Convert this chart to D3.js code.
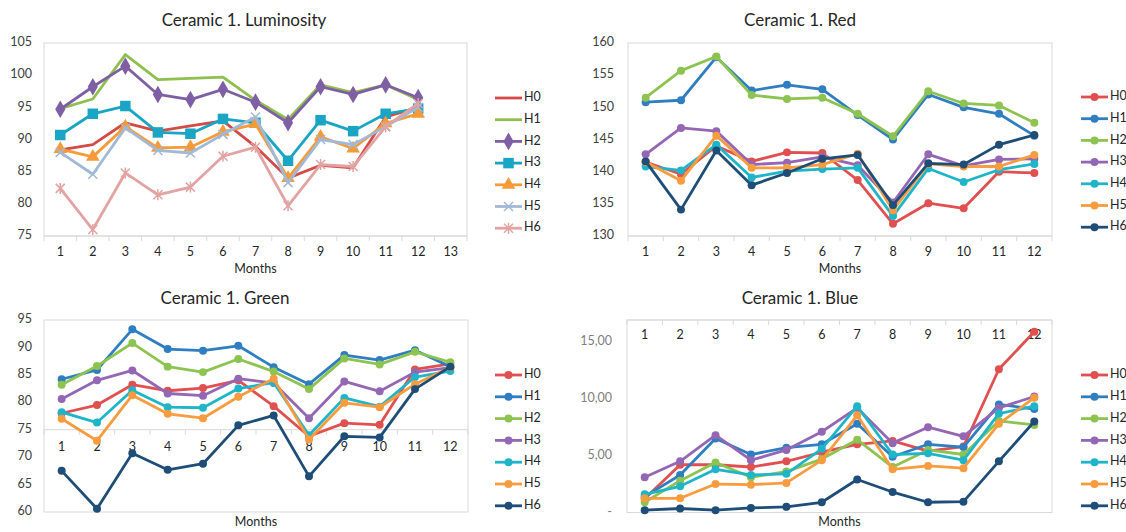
<!DOCTYPE html>
<html>
<head>
<meta charset="utf-8">
<script src="https://cdn.jsdelivr.net/npm/d3@7"></script>
<style>
	body { margin: 0; background: #fff; }
	svg text { font-family: Lato, "Open Sans", sans-serif; }
</style>
</head>
<body>
<svg id="chart" width="1126" height="532"></svg>
<script>
// ---------- data ----------
const months = [1, 2, 3, 4, 5, 6, 7, 8, 9, 10, 11, 12];
const lumCategories = [1, 2, 3, 4, 5, 6, 7, 8, 9, 10, 11, 12, 13];
const seriesNames = ["H0", "H1", "H2", "H3", "H4", "H5", "H6"];

const lumTicks = [75, 80, 85, 90, 95, 100, 105];
const redTicks = [130, 135, 140, 145, 150, 155, 160];
const greenTicks = [60, 65, 70, 75, 80, 85, 90, 95];
const blueTicks = [0, 5, 10, 15];

// Luminosity
const lumH0 = [88.4, 89.2, 92.6, 91.3, 92.1, 92.9, 88.9, 84.0, 86.0, 85.6, 93.5, 95.0];
const lumH1 = [94.8, 96.3, 103.2, 99.3, 99.5, 99.7, 96.1, 93.1, 98.5, 97.3, 98.5, 96.2];
const lumH2 = [94.7, 98.2, 101.4, 97.0, 96.2, 97.8, 95.8, 92.6, 98.2, 97.0, 98.5, 96.5];
const lumH3 = [90.7, 94.0, 95.2, 91.1, 90.9, 93.2, 92.6, 86.7, 93.0, 91.3, 94.0, 94.8];
const lumH4 = [88.5, 87.3, 92.0, 88.7, 88.8, 91.2, 92.4, 84.0, 90.4, 88.6, 92.5, 94.0];
const lumH5 = [88.0, 84.6, 91.8, 88.3, 87.9, 90.8, 93.5, 83.3, 90.0, 89.2, 92.0, 95.0];
const lumH6 = [82.4, 76.0, 84.8, 81.4, 82.6, 87.4, 88.8, 79.7, 86.1, 85.8, 92.0, 95.6];

// Red
const redH0 = [141.5, 139.6, 144.0, 141.6, 143.0, 142.9, 138.7, 131.9, 135.1, 134.3, 140.0, 139.8];
const redH1 = [150.8, 151.1, 157.8, 152.6, 153.5, 152.8, 148.8, 145.0, 152.0, 150.0, 149.0, 145.6];
const redH2 = [151.5, 155.7, 157.9, 151.9, 151.3, 151.5, 149.0, 145.5, 152.5, 150.6, 150.3, 147.6];
const redH3 = [142.7, 146.8, 146.3, 141.1, 141.4, 142.3, 141.0, 135.2, 142.7, 140.9, 141.9, 142.0];
const redH4 = [140.8, 140.2, 144.2, 139.1, 140.1, 140.4, 140.6, 133.1, 140.5, 138.4, 140.3, 141.2];
const redH5 = [141.5, 138.6, 145.6, 140.6, 140.6, 141.1, 142.8, 134.0, 141.2, 140.8, 140.8, 142.6];
const redH6 = [141.6, 134.1, 143.3, 137.9, 139.8, 142.0, 142.6, 134.8, 141.3, 141.1, 144.2, 145.7];

// Green
const greenH0 = [78.0, 79.5, 83.2, 82.1, 82.6, 84.0, 79.3, 73.8, 76.2, 75.9, 86.0, 87.0];
const greenH1 = [84.2, 85.9, 93.3, 89.7, 89.4, 90.3, 86.4, 83.3, 88.6, 87.7, 89.5, 86.5];
const greenH2 = [83.2, 86.6, 90.8, 86.5, 85.5, 87.9, 85.6, 82.4, 88.0, 86.9, 89.2, 87.3];
const greenH3 = [80.6, 84.0, 85.8, 81.6, 81.2, 84.3, 83.5, 77.1, 83.8, 82.0, 85.5, 86.3];
const greenH4 = [78.2, 76.3, 82.2, 79.1, 79.0, 82.5, 83.6, 74.0, 80.8, 79.2, 84.6, 85.7];
const greenH5 = [77.0, 73.0, 81.3, 77.9, 77.1, 81.0, 84.3, 73.2, 79.9, 79.1, 83.3, 86.4];
const greenH6 = [67.5, 60.6, 70.7, 67.7, 68.8, 75.8, 77.6, 66.5, 73.8, 73.6, 82.4, 86.5];

// Blue
const blueH0 = [1.2, 4.2, 4.2, 4.0, 4.5, 5.3, 6.0, 6.3, 5.4, 5.8, 12.6, 15.9];
const blueH1 = [1.4, 3.3, 6.5, 5.1, 5.7, 6.0, 7.8, 4.9, 6.0, 5.75, 9.5, 9.1];
const blueH2 = [0.9, 2.8, 4.4, 3.1, 3.6, 4.7, 6.4, 4.0, 5.5, 5.1, 8.05, 7.7];
const blueH3 = [3.1, 4.5, 6.8, 4.6, 5.5, 7.1, 9.2, 6.1, 7.5, 6.7, 9.2, 10.2];
const blueH4 = [1.6, 2.3, 3.8, 3.3, 3.4, 5.6, 9.35, 5.1, 5.2, 4.6, 8.7, 9.35];
const blueH5 = [1.25, 1.25, 2.5, 2.45, 2.6, 4.6, 8.55, 3.8, 4.1, 3.9, 7.8, 10.1];
const blueH6 = [0.2, 0.35, 0.2, 0.4, 0.5, 0.9, 2.9, 1.8, 0.9, 0.95, 4.5, 8.0];

// ---------- styles ----------
const lumColors = ["#d24b46", "#8fbf4f", "#7f5fa3", "#19a5c3", "#f79a38", "#a1b9d6", "#e2a3a3"];
const lumMarkers = ["none", "none", "diamond", "square", "triangle", "x", "star"];
const rgbColors = ["#e05050", "#2f7ec1", "#8dc350", "#9467b5", "#1fb5c9", "#f89c3f", "#1e4e78"];

const svg = d3.select("#chart");

function markerPath(type) {
	if (type == "diamond") return d3.symbol(d3.symbolDiamond, 90)();
	if (type == "square") return d3.symbol(d3.symbolSquare, 110)();
	if (type == "triangle") return d3.symbol(d3.symbolTriangle, 80)();
	if (type == "x") return "M-4.5,-4.5L4.5,4.5M-4.5,4.5L4.5,-4.5";
	if (type == "star") return "M-4.5,-4.5L4.5,4.5M-4.5,4.5L4.5,-4.5M0,-5.5L0,5.5";
	if (type == "circle") return d3.symbol(d3.symbolCircle, 50)();
	return null;
}

function drawMarker(g, type, color) {
	const p = markerPath(type);
	if (!p) return;
	const stroked = (type == "x" || type == "star");
	g.append("path")
		.attr("d", p)
		.attr("fill", stroked ? "none" : color)
		.attr("stroke", stroked ? color : "none")
		.attr("stroke-width", 1.5);
}

function drawPanel(cfg) {
	const g = svg.append("g");

	const x = d3.scaleBand()
		.domain(cfg.categories)
		.range([cfg.left, cfg.right])
		.paddingInner(0).paddingOuter(0);
	const bw = x.bandwidth();

	const y = d3.scaleLinear()
		.domain(cfg.yDomain)
		.range([cfg.bottom, cfg.top]);

	// plot area border
	g.append("rect")
		.attr("x", cfg.left).attr("y", cfg.top)
		.attr("width", cfg.right - cfg.left).attr("height", cfg.bottom - cfg.top)
		.attr("fill", "none").attr("stroke", "#d9d9d9").attr("stroke-width", 1);

	// category axis line + ticks between categories
	const axisY = cfg.axisAt == "top" ? cfg.top : y(cfg.axisAt);
	g.append("line")
		.attr("x1", cfg.left).attr("x2", cfg.right)
		.attr("y1", axisY).attr("y2", axisY)
		.attr("stroke", "#d9d9d9");
	const bounds = cfg.categories.map(c => x(c)).concat([cfg.right]);
	g.selectAll(".tk").data(bounds).enter().append("line")
		.attr("x1", d => d).attr("x2", d => d)
		.attr("y1", axisY).attr("y2", axisY + 5)
		.attr("stroke", "#d9d9d9");

	// category labels
	g.selectAll(".cat").data(cfg.categories).enter().append("text")
		.text(d => d)
		.attr("x", d => x(d) + bw / 2)
		.attr("y", cfg.catLabelY)
		.attr("text-anchor", "middle")
		.attr("dominant-baseline", "middle")
		.attr("font-size", 12.5)
		.attr("fill", "#262626");

	// value labels
	g.selectAll(".val").data(cfg.yTicks).enter().append("text")
		.text(cfg.yFormat)
		.attr("x", cfg.left - cfg.labelGap)
		.attr("y", d => y(d))
		.attr("text-anchor", "end")
		.attr("dominant-baseline", "middle")
		.attr("font-size", 12.5)
		.attr("fill", cfg.yColor);

	// title and axis title
	g.append("text").text(cfg.title)
		.attr("x", cfg.titleX).attr("y", cfg.titleY)
		.attr("text-anchor", "middle").attr("dominant-baseline", "middle")
		.attr("font-size", 17).attr("fill", "#262626");
	g.append("text").text("Months")
		.attr("x", (cfg.left + cfg.right) / 2).attr("y", cfg.monthsY)
		.attr("text-anchor", "middle").attr("dominant-baseline", "middle")
		.attr("font-size", 12.5).attr("fill", "#262626");

	// series
	const line = d3.line()
		.x((d, i) => x(months[i]) + bw / 2)
		.y(d => y(d));

	cfg.series.forEach((s, k) => {
		g.append("path")
			.datum(s)
			.attr("d", line)
			.attr("fill", "none")
			.attr("stroke", cfg.colors[k])
			.attr("stroke-width", 2.8)
			.attr("stroke-linejoin", "round");
		s.forEach((v, i) => {
			const m = g.append("g").attr("transform", "translate(" + (x(months[i]) + bw / 2) + "," + y(v) + ")");
			drawMarker(m, cfg.markers[k], cfg.colors[k]);
		});
	});

	// legend
	seriesNames.forEach((name, k) => {
		const ly = cfg.legendY + k * cfg.legendStep;
		const lg = g.append("g").attr("transform", "translate(" + cfg.legendX + "," + ly + ")");
		lg.append("line").attr("x1", 0).attr("x2", 27).attr("y1", 0).attr("y2", 0)
			.attr("stroke", cfg.colors[k]).attr("stroke-width", 2.8);
		const mk = lg.append("g").attr("transform", "translate(13.5,0)");
		drawMarker(mk, cfg.markers[k], cfg.colors[k]);
		lg.append("text").text(name)
			.attr("x", 29).attr("y", 0)
			.attr("dominant-baseline", "middle")
			.attr("font-size", 12.5).attr("fill", "#262626");
	});
}

const circles = seriesNames.map(() => "circle");

drawPanel({
	title: "Ceramic 1. Luminosity", titleX: 244, titleY: 22,
	left: 44, right: 467, top: 43, bottom: 236,
	categories: lumCategories, yDomain: [75, 105], yTicks: lumTicks,
	yFormat: d => d, yColor: "#404040", labelGap: 12,
	axisAt: 75, catLabelY: 253, monthsY: 270,
	series: [lumH0, lumH1, lumH2, lumH3, lumH4, lumH5, lumH6],
	colors: lumColors, markers: lumMarkers,
	legendX: 495, legendY: 98, legendStep: 21.7
});

drawPanel({
	title: "Ceramic 1. Red", titleX: 800, titleY: 22,
	left: 628, right: 1052, top: 43, bottom: 236,
	categories: months, yDomain: [130, 160], yTicks: redTicks,
	yFormat: d => d, yColor: "#404040", labelGap: 14,
	axisAt: 130, catLabelY: 253, monthsY: 270,
	series: [redH0, redH1, redH2, redH3, redH4, redH5, redH6],
	colors: rgbColors, markers: circles,
	legendX: 1081, legendY: 97, legendStep: 21.7
});

drawPanel({
	title: "Ceramic 1. Green", titleX: 225, titleY: 300,
	left: 44, right: 468, top: 320, bottom: 512,
	categories: months, yDomain: [60, 95], yTicks: greenTicks,
	yFormat: d => d, yColor: "#404040", labelGap: 12,
	axisAt: 75, catLabelY: 448, monthsY: 523,
	series: [greenH0, greenH1, greenH2, greenH3, greenH4, greenH5, greenH6],
	colors: rgbColors, markers: circles,
	legendX: 495, legendY: 375, legendStep: 21.8
});

drawPanel({
	title: "Ceramic 1. Blue", titleX: 800, titleY: 300,
	left: 627, right: 1052, top: 320, bottom: 512.5,
	categories: months, yDomain: [0, 16.93], yTicks: blueTicks,
	yFormat: d => d == 0 ? "-" : d3.format(".2f")(d).replace(".", ","), yColor: "#808080", labelGap: 15,
	axisAt: "top", catLabelY: 336, monthsY: 523,
	series: [blueH0, blueH1, blueH2, blueH3, blueH4, blueH5, blueH6],
	colors: rgbColors, markers: circles,
	legendX: 1081, legendY: 375, legendStep: 21.8
});
</script>
</body>
</html>
